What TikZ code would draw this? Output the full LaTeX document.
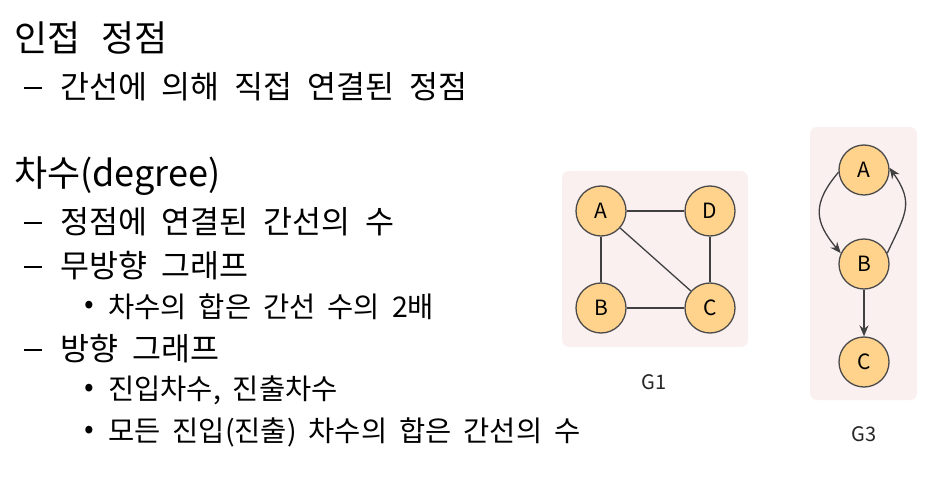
\documentclass[tikz,border=0pt]{standalone}
\usepackage{fontspec}
\setmainfont{Noto Sans CJK KR}
\usetikzlibrary{arrows.meta}
\definecolor{nodefill}{HTML}{FFD38C}
\definecolor{nodeline}{HTML}{4A4A4A}
\definecolor{boxfill}{HTML}{FBF0F0}
\definecolor{edgecol}{HTML}{404040}
\newcommand\myttlfont{\fontsize{36}{42}\selectfont\spaceskip=0.58em\relax}
\newcommand\mylvonefont{\fontsize{31.5}{36}\selectfont\spaceskip=0.47em\relax}
\newcommand\mylvtwofont{\fontsize{28.5}{33}\selectfont\spaceskip=0.42em\relax}
\tikzset{
  vtx/.style={circle,draw=nodeline,line width=1.3pt,fill=nodefill,minimum size=50pt,inner sep=0pt,font=\fontsize{21}{25}\selectfont},
  panel/.style={fill=boxfill,draw=none,rounded corners=7pt},
  lnk/.style={draw=edgecol,line width=1.3pt},
  arr/.style={lnk,-{Stealth[length=11pt,width=9pt]}},
  ttl/.style={anchor=west,inner sep=0pt,font=\myttlfont},
  lvone/.style={anchor=west,inner sep=0pt,font=\mylvonefont},
  dsh/.style={anchor=west,inner sep=0pt,minimum width=18pt,minimum height=2pt,fill=black},
  lvtwo/.style={anchor=west,inner sep=0pt,font=\mylvtwofont},
  gcap/.style={inner sep=0pt,text=black!85,font=\fontsize{20}{24}\selectfont},
}
\begin{document}
\begin{tikzpicture}[x=1pt,y=-1pt]
\useasboundingbox[fill=white] (0,0) rectangle (940,494);
% text
\node[ttl] (t1) at (14,38) {인접 정점};
\node[dsh] (d1) at (24,88) {};
\node[lvone] (s1) at (60,87) {간선에 의해 직접 연결된 정점};
\node[ttl] (t2) at (14,176) {차수(degree)};
\node[dsh] (d2) at (24,223) {};
\node[lvone] (s2) at (60,222) {정점에 연결된 간선의 수};
\node[dsh] (d3) at (24,267) {};
\node[lvone] (s3) at (60,266) {무방향 그래프};
\node[lvtwo] (b1) at (84,307) {•};
\node[lvtwo] (u1) at (108,307) {차수의 합은 간선 수의 2배};
\node[dsh] (d4) at (24,350) {};
\node[lvone] (s4) at (60,349) {방향 그래프};
\node[lvtwo] (b2) at (84,390) {•};
\node[lvtwo] (u2) at (108,390) {진입차수, 진출차수};
\node[lvtwo] (b3) at (84,432) {•};
\node[lvtwo] (u3) at (108,432) {모든 진입(진출) 차수의 합은 간선의 수};
% G1
\fill[panel] (562,171) rectangle (748,347);
\node[vtx] (A) at (601,211) {A};
\node[vtx] (D) at (710,211) {D};
\node[vtx] (B) at (601,308) {B};
\node[vtx] (C) at (710,308) {C};
\draw[lnk] (A) -- (D);
\draw[lnk] (A) -- (B);
\draw[lnk] (A) -- (C);
\draw[lnk] (D) -- (C);
\draw[lnk] (B) -- (C);
\node[gcap] (g1) at (654,382) {G1};
% G3
\fill[panel] (810,127) rectangle (917,400);
\node[vtx] (A3) at (864,170) {A};
\node[vtx] (B3) at (864,264) {B};
\node[vtx] (C3) at (864,362) {C};
\draw[arr] (A3.185) to[out=230,in=130,looseness=1.3] (B3.155);
\draw[arr] (B3.25) to[out=65,in=-55,looseness=1.3] (A3.5);
\draw[arr] (B3) -- (C3);
\node[gcap] (g3) at (864,434) {G3};
\end{tikzpicture}
\end{document}
